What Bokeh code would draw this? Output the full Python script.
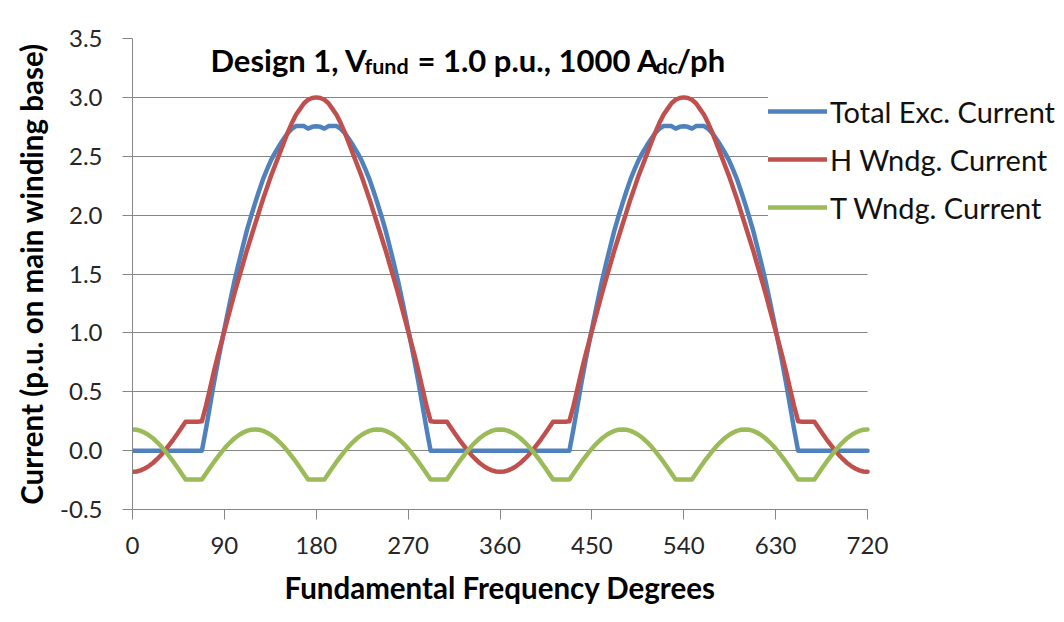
from bokeh.plotting import figure
from bokeh.models import (Range1d, FixedTicker, NumeralTickFormatter, Legend, LegendItem,
                          Label, BoxAnnotation, Title)
from bokeh.embed import file_html
from bokeh.resources import INLINE

# ---------------- data ----------------
degrees = list(range(0, 721, 4))

total_exc = [
    0.0, 0.0, 0.0, 0.0, 0.0, 0.0, 0.0, 0.0, 0.0, 0.0,
    0.0, 0.0, 0.0, 0.0, 0.0, 0.0, 0.0, 0.0, 0.186, 0.387,
    0.586, 0.772, 0.946, 1.117, 1.283, 1.445, 1.591, 1.732, 1.868, 1.987,
    2.100, 2.207, 2.308, 2.392, 2.471, 2.535, 2.593, 2.647, 2.696, 2.732,
    2.756, 2.757, 2.756, 2.735, 2.750, 2.755, 2.750, 2.735, 2.756, 2.757,
    2.756, 2.732, 2.696, 2.647, 2.593, 2.535, 2.471, 2.392, 2.308, 2.207,
    2.100, 1.987, 1.868, 1.732, 1.591, 1.445, 1.283, 1.117, 0.946, 0.772,
    0.586, 0.387, 0.186, 0.0, 0.0, 0.0, 0.0, 0.0, 0.0, 0.0,
    0.0, 0.0, 0.0, 0.0, 0.0, 0.0, 0.0, 0.0, 0.0, 0.0,
    0.0, 0.0, 0.0, 0.0, 0.0, 0.0, 0.0, 0.0, 0.0, 0.0,
    0.0, 0.0, 0.0, 0.0, 0.0, 0.0, 0.0, 0.0, 0.186, 0.387,
    0.586, 0.772, 0.946, 1.117, 1.283, 1.445, 1.591, 1.732, 1.868, 1.987,
    2.100, 2.207, 2.308, 2.392, 2.471, 2.535, 2.593, 2.647, 2.696, 2.732,
    2.756, 2.757, 2.756, 2.735, 2.750, 2.755, 2.750, 2.735, 2.756, 2.757,
    2.756, 2.732, 2.696, 2.647, 2.593, 2.535, 2.471, 2.392, 2.308, 2.207,
    2.100, 1.987, 1.868, 1.732, 1.591, 1.445, 1.283, 1.117, 0.946, 0.772,
    0.586, 0.387, 0.186, 0.0, 0.0, 0.0, 0.0, 0.0, 0.0, 0.0,
    0.0, 0.0, 0.0, 0.0, 0.0, 0.0, 0.0, 0.0, 0.0, 0.0,
    0.0,
]

h_wndg = [
    -0.180, -0.177, -0.168, -0.152, -0.131, -0.105, -0.073, -0.037, 0.004, 0.048,
    0.094, 0.143, 0.194, 0.245, 0.245, 0.245, 0.245, 0.250, 0.380, 0.530,
    0.680, 0.820, 0.950, 1.080, 1.210, 1.340, 1.460, 1.580, 1.700, 1.810,
    1.920, 2.030, 2.140, 2.240, 2.340, 2.430, 2.520, 2.610, 2.700, 2.780,
    2.850, 2.900, 2.950, 2.980, 2.995, 3.000, 2.995, 2.980, 2.950, 2.900,
    2.850, 2.780, 2.700, 2.610, 2.520, 2.430, 2.340, 2.240, 2.140, 2.030,
    1.920, 1.810, 1.700, 1.580, 1.460, 1.340, 1.210, 1.080, 0.950, 0.820,
    0.680, 0.530, 0.380, 0.250, 0.245, 0.245, 0.245, 0.245, 0.194, 0.143,
    0.094, 0.048, 0.004, -0.037, -0.073, -0.105, -0.131, -0.152, -0.168, -0.177,
    -0.180, -0.177, -0.168, -0.152, -0.131, -0.105, -0.073, -0.037, 0.004, 0.048,
    0.094, 0.143, 0.194, 0.245, 0.245, 0.245, 0.245, 0.250, 0.380, 0.530,
    0.680, 0.820, 0.950, 1.080, 1.210, 1.340, 1.460, 1.580, 1.700, 1.810,
    1.920, 2.030, 2.140, 2.240, 2.340, 2.430, 2.520, 2.610, 2.700, 2.780,
    2.850, 2.900, 2.950, 2.980, 2.995, 3.000, 2.995, 2.980, 2.950, 2.900,
    2.850, 2.780, 2.700, 2.610, 2.520, 2.430, 2.340, 2.240, 2.140, 2.030,
    1.920, 1.810, 1.700, 1.580, 1.460, 1.340, 1.210, 1.080, 0.950, 0.820,
    0.680, 0.530, 0.380, 0.250, 0.245, 0.245, 0.245, 0.245, 0.194, 0.143,
    0.094, 0.048, 0.004, -0.037, -0.073, -0.105, -0.131, -0.152, -0.168, -0.177,
    -0.180,
]

t_wndg = [
    0.180, 0.177, 0.168, 0.152, 0.131, 0.105, 0.073, 0.037, -0.004, -0.048,
    -0.094, -0.143, -0.194, -0.245, -0.245, -0.245, -0.245, -0.245, -0.194, -0.143,
    -0.094, -0.048, -0.004, 0.037, 0.073, 0.105, 0.131, 0.152, 0.168, 0.177,
    0.180, 0.177, 0.168, 0.152, 0.131, 0.105, 0.073, 0.037, -0.004, -0.048,
    -0.094, -0.143, -0.194, -0.245, -0.245, -0.245, -0.245, -0.245, -0.194, -0.143,
    -0.094, -0.048, -0.004, 0.037, 0.073, 0.105, 0.131, 0.152, 0.168, 0.177,
    0.180, 0.177, 0.168, 0.152, 0.131, 0.105, 0.073, 0.037, -0.004, -0.048,
    -0.094, -0.143, -0.194, -0.245, -0.245, -0.245, -0.245, -0.245, -0.194, -0.143,
    -0.094, -0.048, -0.004, 0.037, 0.073, 0.105, 0.131, 0.152, 0.168, 0.177,
    0.180, 0.177, 0.168, 0.152, 0.131, 0.105, 0.073, 0.037, -0.004, -0.048,
    -0.094, -0.143, -0.194, -0.245, -0.245, -0.245, -0.245, -0.245, -0.194, -0.143,
    -0.094, -0.048, -0.004, 0.037, 0.073, 0.105, 0.131, 0.152, 0.168, 0.177,
    0.180, 0.177, 0.168, 0.152, 0.131, 0.105, 0.073, 0.037, -0.004, -0.048,
    -0.094, -0.143, -0.194, -0.245, -0.245, -0.245, -0.245, -0.245, -0.194, -0.143,
    -0.094, -0.048, -0.004, 0.037, 0.073, 0.105, 0.131, 0.152, 0.168, 0.177,
    0.180, 0.177, 0.168, 0.152, 0.131, 0.105, 0.073, 0.037, -0.004, -0.048,
    -0.094, -0.143, -0.194, -0.245, -0.245, -0.245, -0.245, -0.245, -0.194, -0.143,
    -0.094, -0.048, -0.004, 0.037, 0.073, 0.105, 0.131, 0.152, 0.168, 0.177,
    0.180,
]

series_names = ["Total Exc. Current", "H Wndg. Current", "T Wndg. Current"]
series_colors = ["#4F81BD", "#C0504D", "#9BBB59"]
x_ticks = [0, 90, 180, 270, 360, 450, 540, 630, 720]
y_ticks = [-0.5, 0.0, 0.5, 1.0, 1.5, 2.0, 2.5, 3.0, 3.5]
x_title = "Fundamental Frequency Degrees"
y_title = "Current (p.u. on main winding base)"
x_min, x_max = 0, 720

FONT = "Lato"
GRAY = "#868686"

# The frame reaches the right edge of the canvas so the legend (which sits over the
# right end of the plot area in the reference) is not clipped; the data range is
# widened so that 720 degrees lands where the reference's plot area ends.
FRAME_LEFT, DATA_RIGHT_PX, CANVAS_W = 132, 867, 1064
x_view_end = x_max * (CANVAS_W - FRAME_LEFT) / (DATA_RIGHT_PX - FRAME_LEFT)

p = figure(width=CANVAS_W, height=622, output_backend="svg", toolbar_location=None,
           x_range=Range1d(x_min, x_view_end), y_range=Range1d(-0.5, 3.5),
           min_border_left=FRAME_LEFT, min_border_right=0,
           min_border_top=38, min_border_bottom=113)
p.outline_line_color = None
p.background_fill_color = "white"
p.border_fill_color = "white"

# axes
for ax in (p.xaxis[0], p.yaxis[0]):
    ax.axis_line_color = GRAY
    ax.major_tick_line_color = GRAY
    ax.major_tick_out = 10
    ax.major_tick_in = 0
    ax.minor_tick_line_color = None
    ax.major_label_text_font = FONT
    ax.major_label_text_font_size = "24px"
    ax.major_label_text_color = "#262626"
    ax.axis_label_text_font = FONT
    ax.axis_label_text_font_style = "bold"
    ax.axis_label_text_font_size = "29.5px"
    ax.axis_label_text_color = "#000000"

p.xaxis.ticker = FixedTicker(ticks=x_ticks)
p.xaxis.bounds = (x_min, x_max)
p.yaxis.ticker = FixedTicker(ticks=y_ticks)
p.yaxis.formatter = NumeralTickFormatter(format="0.0")
p.yaxis.axis_label = y_title
p.xaxis.major_label_standoff = 17
p.yaxis.major_label_standoff = 20
p.yaxis.axis_label_standoff = 8

# x-axis title: placed under the data part of the frame (frame is widened on the right)
p.add_layout(Title(text=x_title, align="left", offset=152, standoff=23,
                   text_font=FONT, text_font_style="bold", text_font_size="29.5px",
                   text_color="#000000"), "below")

p.xgrid.visible = False
p.ygrid.ticker = FixedTicker(ticks=y_ticks)
p.ygrid.grid_line_color = GRAY
p.ygrid.grid_line_width = 1

# blank out the grid beyond the end of the data axis
p.add_layout(BoxAnnotation(left=x_max, fill_color="white", fill_alpha=1.0,
                           line_color=None, level="underlay"))

renderers = []
for ys, col in zip([total_exc, h_wndg, t_wndg], series_colors):
    r = p.line(degrees, ys, line_color=col, line_width=4.5,
               line_join="round", line_cap="round")
    renderers.append(r)

legend = Legend(
    items=[LegendItem(label=n, renderers=[r]) for n, r in zip(series_names, renderers)],
    location=(636, 282), padding=10, spacing=8, margin=0,
    glyph_width=59, glyph_height=40, label_height=40, label_standoff=3,
    border_line_color=None, background_fill_color="white", background_fill_alpha=1.0,
    label_text_font=FONT, label_text_font_size="29px", label_text_color="#111111",
)
p.add_layout(legend)

# title composed of pieces (normal + subscripts), frame-relative screen units
base_y = 450
sub_y = 444
pieces = [
    ("Design 1, V", 78, base_y, "31px"),
    ("fund", 232, sub_y, "21.5px"),
    ("= 1.0 p.u., 1000 A", 285, base_y, "31px"),
    ("dc", 523, sub_y, "21.5px"),
    ("/ph", 544, base_y, "31px"),
]
for txt, x, y, fs in pieces:
    p.add_layout(Label(x=x, y=y, x_units="screen", y_units="screen", text=txt,
                       text_font=FONT, text_font_style="bold", text_font_size=fs,
                       text_color="#000000", text_baseline="alphabetic",
                       text_align="left"))

open("out.html", "w").write(file_html(p, INLINE))
